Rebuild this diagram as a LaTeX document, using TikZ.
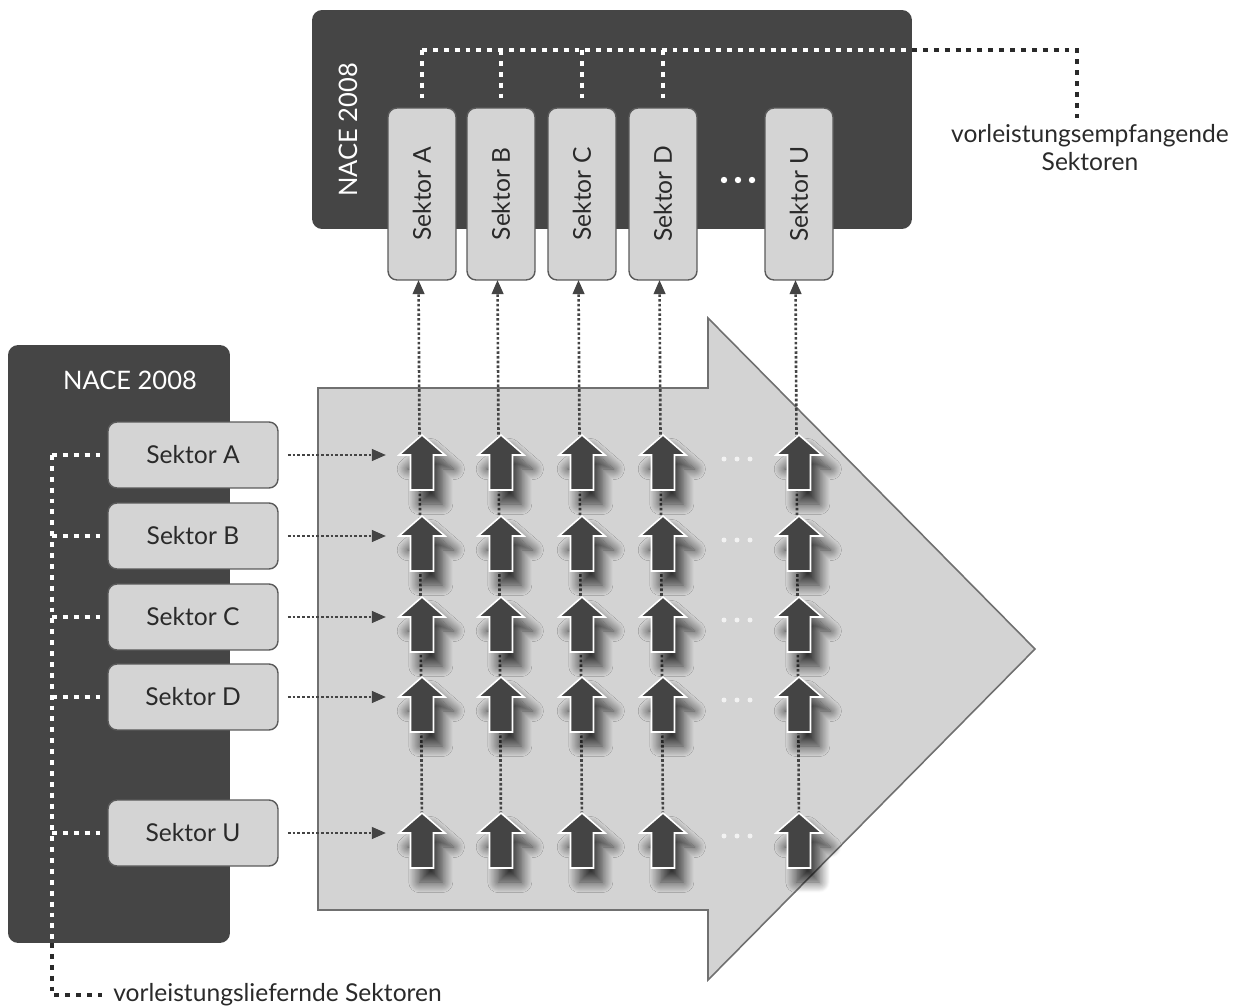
\documentclass[tikz,border=0pt]{standalone}
\usepackage{fontspec}
\setmainfont{Lato}
\usetikzlibrary{arrows.meta,shadows.blur}
\definecolor{panel}{HTML}{454545}
\definecolor{boxfill}{HTML}{D4D4D4}
\definecolor{boxline}{HTML}{5A5A5A}
\definecolor{bigfill}{HTML}{D3D3D3}
\definecolor{bigline}{HTML}{707070}
\definecolor{arrowdark}{HTML}{444444}
\definecolor{txt}{HTML}{2A2A2A}
\begin{document}
\begin{tikzpicture}[x=0.02cm,y=0.02cm,
  panelbox/.style={fill=panel, draw=none, rounded corners=0.2cm, inner sep=0pt, outer sep=0pt},
  hbox/.style={fill=boxfill, draw=boxline, line width=0.8pt, rounded corners=0.18cm,
     minimum width=3.4cm, minimum height=1.32cm, inner sep=0pt, outer sep=0pt, text=txt,
     font=\fontsize{14}{16}\selectfont},
  vbox/.style={hbox, minimum width=3.44cm, minimum height=1.36cm, rotate=90},
  paneltext/.style={text=white, font=\fontsize{14.5}{16}\selectfont, inner sep=0pt},
  labeltext/.style={text=txt, font=\fontsize{14}{16}\selectfont, inner sep=0pt, align=center},
  wdot/.style={draw=white, line width=2.8pt, dash pattern=on 2.8pt off 3.4pt},
  bdot/.style={draw=txt, line width=2.8pt, dash pattern=on 2.8pt off 3.4pt},
  thindot/.style={draw=arrowdark, line width=1.5pt, dash pattern=on 1.5pt off 1.2pt,
     -{Triangle[length=8pt,width=6.5pt]}},
  smallarr/.style={fill=arrowdark, draw=white, line width=0.9pt,
     blur shadow={shadow xshift=5pt, shadow yshift=-8pt, shadow blur radius=6pt,
       shadow blur steps=12, shadow opacity=75}},
  griddot/.style={fill=white!95!black, draw=none},
]
\useasboundingbox (0,0) rectangle (1238,-1007);

% big background arrow
\path[fill=bigfill, draw=bigline, line width=0.9pt]
  (318,-388) -- (708,-388) -- (708,-318) -- (1035,-649) -- (708,-980) -- (708,-910) -- (318,-910) -- cycle;

% panels
\node[panelbox, minimum width=12cm, minimum height=4.38cm] (toppanel) at (612,-119.5) {};
\node[panelbox, minimum width=4.44cm, minimum height=11.96cm] (leftpanel) at (119,-644) {};
\node[paneltext, rotate=90] (toptitle) at (348,-130) {NACE 2008};
\node[paneltext] (lefttitle) at (130,-380) {NACE 2008};

% top (receiving) sector boxes
\node[vbox] (t1) at (422,-194) {Sektor A};
\node[vbox] (t2) at (501,-194) {Sektor B};
\node[vbox] (t3) at (582,-194) {Sektor C};
\node[vbox] (t4) at (663,-194) {Sektor D};
\node[vbox] (t5) at (799,-194) {Sektor U};
\foreach \dx in {-14,0,14} \fill[white] (738+\dx,-180) circle (3.2);

% top dotted bracket
\coordinate (hl) at (422,-50);
\coordinate (hr) at (912,-50);
\coordinate (hc) at (1077,-50);
\coordinate (hd) at (1077,-118);
\draw[wdot] (hl) -- (hr);
\draw[bdot] (hr) -- (hc) -- (hd);
\foreach \i in {1,2,3,4} \draw[wdot] (t\i.east |- hl) -- (t\i.east |- 0,-102);
\node[labeltext, anchor=north] (reclabel) at (1090,-124) {vorleistungsempfangende\\Sektoren};

% left (supplying) sector boxes
\node[hbox] (l1) at (193,-455) {Sektor A};
\node[hbox] (l2) at (193,-536) {Sektor B};
\node[hbox] (l3) at (193,-617) {Sektor C};
\node[hbox] (l4) at (193,-697) {Sektor D};
\node[hbox] (l5) at (193,-833) {Sektor U};

% left dotted bracket
\coordinate (vt) at (52,-455);
\coordinate (vb) at (52,-943);
\coordinate (vc) at (52,-995);
\coordinate (ve) at (102,-995);
\draw[wdot] (vt) -- (vb);
\draw[bdot] (vb) -- (vc) -- (ve);
\foreach \j in {1,...,5} \draw[wdot] (vt |- l\j.west) -- ([xshift=-0.16cm]l\j.west);
\node[labeltext, anchor=west] (suplabel) at (113,-995) {vorleistungsliefernde Sektoren};

% grid coordinates
\foreach \cx [count=\i] in {422,501,582,663,799}
  \foreach \ry [count=\j] in {455,536,617,697,833}
    \coordinate (g\i\j) at (\cx,-\ry);

% vertical dotted arrows to receiving sectors
\foreach \i in {1,...,5} \draw[thindot] (g\i5) -- ([xshift=-2pt]t\i.west);

% horizontal dotted arrows from supplying sectors
\foreach \ry [count=\j] in {455,536,617,697,833} {
  \coordinate (h\j) at (386,-\ry);
  \draw[thindot] ([xshift=0.2cm]l\j.east) -- (h\j);
}

% small block arrows
\foreach \cx [count=\i] in {422,501,582,663,799}
  \foreach \ry [count=\j] in {455,536,617,697,833}
    \path[smallarr, shift={(\cx,-\ry)}]
      (0,20) -- (23,0) -- (11.5,0) -- (11.5,-35) -- (-11.5,-35) -- (-11.5,0) -- (-23,0) -- cycle;

% dots in grid
\foreach \ry in {459,540,620,700,836}
  \foreach \dx in {-13,0,13} \fill[griddot] (737+\dx,-\ry) circle (2.5);
\end{tikzpicture}
\end{document}
